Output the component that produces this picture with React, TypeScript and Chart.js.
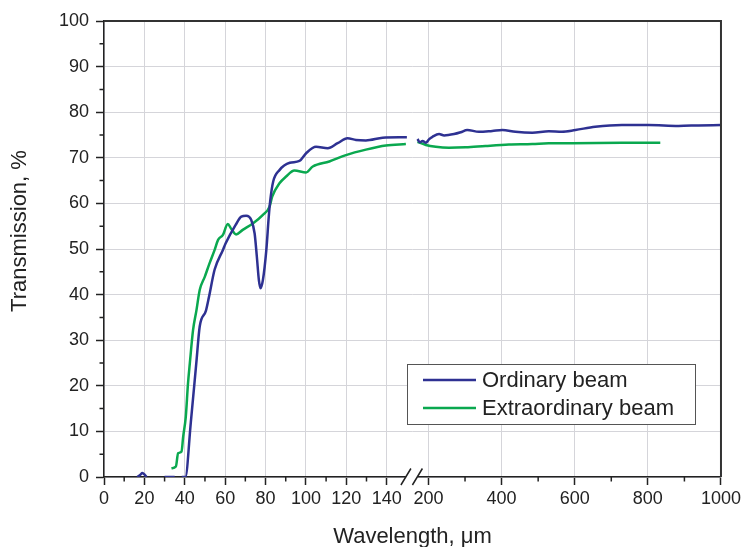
import React, { useEffect, useRef } from "react";
import { Chart, registerables } from "chart.js";

Chart.register(...registerables);

// ---- data (wavelength in µm, transmission in %) ----
const ordinaryWavelength = [
  16.5, 18, 19, 20, 21, 25, 30, 35, 36, 38.5, 40.3, 43, 45.7, 47.4, 50.5, 52, 54.8, 58.9, 60.2, 65.2, 68,
  70.4, 72.9, 74.6, 75.7, 76.7, 77.5, 78.7, 80.4, 81.6, 82.3, 83.8, 86.9, 92, 96.8, 100.1, 105, 110.8,
  115.7, 120.6, 124.8, 129.7, 138, 146.2, 150,
  170, 176.5, 183.6, 192.9, 202, 211, 229, 243, 270, 288, 306, 338, 374.5, 402, 438, 484, 529, 565, 602,
  656, 729, 802, 884, 938, 1000,
];
const ordinaryTransmission = [
  0, 0.5, 0.9, 0.6, 0, null, 0, 0, null, 0, 0, 12, 24.9, 33, 36.5, 39.5, 45.5, 49.8, 51.2, 55.3, 57.1,
  57.3, 56.4, 53.4, 48.3, 43.2, 41.4, 43.2, 49.8, 57.1, 60.5, 64.8, 67.3, 68.9, 69.3, 71, 72.4, 72.1,
  73.2, 74.3, 73.9, 73.8, 74.4, 74.5, 74.5,
  74.1, 73.4, 73.7, 73.3, 74.1, 74.6, 75.2, 74.9, 75.2, 75.6, 76.1, 75.7, 75.9, 76.1, 75.7, 75.5, 75.8, 75.7, 76.1,
  76.8, 77.2, 77.2, 77.0, 77.1, 77.2,
];
const extraordinaryWavelength = [
  33.4, 35.6, 36.7, 38.4, 39.2, 40.5, 41.6, 42.5, 44.1, 45.8, 47.4, 49.9, 52.3, 54.8, 56.5, 58.9, 61.3,
  62.9, 65.4, 68.7, 73.7, 78.7, 82, 83.3, 86.9, 90.2, 94.3, 100.1, 103.4, 111.6, 119.8, 129.7, 139.6, 149.5,
  170, 193, 220, 256, 302, 356, 420, 484, 529, 593, 729, 834,
];
const extraordinaryTransmission = [
  1.9, 2.3, 5.2, 5.6, 8.8, 13.2, 20.5, 24.9, 32.2, 36.6, 41, 43.9, 46.9, 49.8, 52, 53.1, 55.5,
  54.5, 53.2, 54.2, 55.6, 57.5, 59.3, 61.5, 64.4, 65.9, 67.2, 66.8, 68.1, 69.2, 70.6, 71.8, 72.7, 73.0,
  73.5, 72.8, 72.4, 72.2, 72.3, 72.6, 72.9, 73.0, 73.2, 73.2, 73.3, 73.3,
];

const seriesNames = ["Ordinary beam", "Extraordinary beam"];
const seriesColors = ["#2e3192", "#0aa84f"];

// broken axis: left segment 0..BREAK, right segment BREAK..1000
const AXIS_BREAK = 152;
const leftRange = [0, AXIS_BREAK];
const rightRange = [AXIS_BREAK, 1000];
const leftStep = 20;
const rightStep = 200;
const leftMinorTicks = [10, 30, 50, 70, 90, 110, 130];
const rightMinorTicks = [300, 500, 700, 900];
const yRange = [0, 100];
const yStep = 10;
const yMinorTicks = [5, 15, 25, 35, 45, 55, 65, 75, 85, 95];

const FONT = "'Liberation Sans', Arial, sans-serif";
const TEXT = "#222222";
const GRID = "#d5d5da";

function split(wl: number[], tr: (number | null)[], left: boolean) {
  const out: { x: number; y: number | null }[] = [];
  wl.forEach((w, i) => {
    if (left ? w <= AXIS_BREAK : w > AXIS_BREAK) out.push({ x: w, y: tr[i] });
  });
  return out;
}

const decorPlugin = {
  id: "decor",
  afterDatasetsDraw(chart: any) {
    const { ctx, chartArea, scales } = chart;
    ctx.save();
    // minor ticks
    ctx.strokeStyle = TEXT;
    ctx.lineWidth = 1.5;
    ctx.beginPath();
    leftMinorTicks.forEach((v) => {
      const x = scales.xLeft.getPixelForValue(v);
      ctx.moveTo(x, chartArea.bottom);
      ctx.lineTo(x, chartArea.bottom + 4.5);
    });
    rightMinorTicks.forEach((v) => {
      const x = scales.xRight.getPixelForValue(v);
      ctx.moveTo(x, chartArea.bottom);
      ctx.lineTo(x, chartArea.bottom + 4.5);
    });
    yMinorTicks.forEach((v) => {
      const y = scales.y.getPixelForValue(v);
      ctx.moveTo(chartArea.left, y);
      ctx.lineTo(chartArea.left - 4.5, y);
    });
    ctx.stroke();
    ctx.restore();
  },
  afterDraw(chart: any) {
    const { ctx, chartArea, scales } = chart;
    ctx.save();
    // frame top / right
    ctx.strokeStyle = "#333333";
    ctx.lineWidth = 2;
    ctx.beginPath();
    ctx.moveTo(chartArea.left, chartArea.top);
    ctx.lineTo(chartArea.right, chartArea.top);
    ctx.lineTo(chartArea.right, chartArea.bottom);
    ctx.stroke();

    // axis break
    const bx = scales.xLeft.right;
    const by = chartArea.bottom;
    ctx.fillStyle = "#ffffff";
    ctx.fillRect(bx - 5, by - 2.5, 12, 5);
    ctx.strokeStyle = TEXT;
    ctx.lineWidth = 1.5;
    ctx.beginPath();
    ctx.moveTo(bx - 10, by + 8);
    ctx.lineTo(bx, by - 8.5);
    ctx.moveTo(bx + 1.5, by + 8);
    ctx.lineTo(bx + 11.5, by - 8.5);
    ctx.stroke();

    // legend
    const lx = 407, ly = 364, lw = 288, lh = 60;
    ctx.fillStyle = "#ffffff";
    ctx.fillRect(lx, ly, lw, lh);
    ctx.strokeStyle = "#555555";
    ctx.lineWidth = 1;
    ctx.strokeRect(lx + 0.5, ly + 0.5, lw, lh);
    ctx.font = `22px ${FONT}`;
    ctx.textBaseline = "middle";
    ctx.textAlign = "left";
    seriesNames.forEach((name, i) => {
      const yy = ly + 16 + i * 28;
      ctx.strokeStyle = seriesColors[i];
      ctx.lineWidth = 2.5;
      ctx.beginPath();
      ctx.moveTo(lx + 16, yy);
      ctx.lineTo(lx + 69, yy);
      ctx.stroke();
      ctx.fillStyle = TEXT;
      ctx.fillText(name, lx + 75, yy + 1);
    });

    // axis titles
    ctx.fillStyle = TEXT;
    ctx.font = `22px ${FONT}`;
    ctx.textAlign = "center";
    ctx.textBaseline = "middle";
    ctx.fillText("Wavelength, \u03bcm", (chartArea.left + chartArea.right) / 2, 537);
    ctx.save();
    ctx.translate(20, 231);
    ctx.rotate(-Math.PI / 2);
    ctx.fillText("Transmission, %", 0, 0);
    ctx.restore();
    ctx.restore();
  },
};

export default function App() {
  const ref = useRef<HTMLCanvasElement | null>(null);
  useEffect(() => {
    document.body.style.margin = "0";
    if (!ref.current) return;
    const ds = (wl: number[], tr: (number | null)[], i: number, left: boolean) => ({
      label: seriesNames[i],
      data: split(wl, tr, left),
      xAxisID: left ? "xLeft" : "xRight",
      yAxisID: "y",
      borderColor: seriesColors[i],
      backgroundColor: seriesColors[i],
      borderWidth: 2.5,
      pointRadius: 0,
      cubicInterpolationMode: "monotone" as const,
      spanGaps: false,
      fill: false,
    });
    const tickFont = { family: FONT, size: 18 };
    const plain = (v: any) => String(v);
    const xCommon = (range: number[], step: number, weight: number) => ({
      type: "linear" as const,
      position: "bottom" as const,
      stack: "wl",
      stackWeight: weight,
      min: range[0],
      max: range[1],
      afterFit: (s: any) => {
        s.height = 70;
      },
      ticks: {
        stepSize: step,
        includeBounds: false,
        autoSkip: false,
        maxRotation: 0,
        font: tickFont,
        color: TEXT,
        padding: 3,
        callback: plain,
      },
      grid: { color: GRID, lineWidth: 1, tickColor: TEXT, tickLength: 8, tickWidth: 1.5 },
      border: { color: TEXT, width: 1.5 },
    });
    const chart = new Chart(ref.current, {
      type: "line",
      data: {
        datasets: [
          ds(ordinaryWavelength, ordinaryTransmission, 0, true),
          ds(ordinaryWavelength, ordinaryTransmission, 0, false),
          ds(extraordinaryWavelength, extraordinaryTransmission, 1, true),
          ds(extraordinaryWavelength, extraordinaryTransmission, 1, false),
        ],
      },
      options: {
        animation: false,
        responsive: false,
        maintainAspectRatio: false,
        layout: { padding: { left: 0, right: 22, top: 21, bottom: 0 } },
        plugins: { legend: { display: false }, tooltip: { enabled: false } },
        scales: {
          xLeft: xCommon(leftRange, leftStep, (leftRange[1] - leftRange[0]) * 2.025),
          xRight: xCommon(rightRange, rightStep, (rightRange[1] - rightRange[0]) * 0.3667),
          y: {
            type: "linear",
            position: "left",
            min: yRange[0],
            max: yRange[1],
            afterFit: (s: any) => {
              s.width = 104;
            },
            ticks: { stepSize: yStep, font: tickFont, color: TEXT, padding: 7, callback: plain },
            grid: { color: GRID, lineWidth: 1, tickColor: TEXT, tickLength: 8, tickWidth: 1.5 },
            border: { color: TEXT, width: 1.5 },
          },
        },
      },
      plugins: [decorPlugin],
    } as any);
    return () => chart.destroy();
  }, []);
  return <canvas ref={ref} width={744} height={547} style={{ display: "block" }} />;
}
